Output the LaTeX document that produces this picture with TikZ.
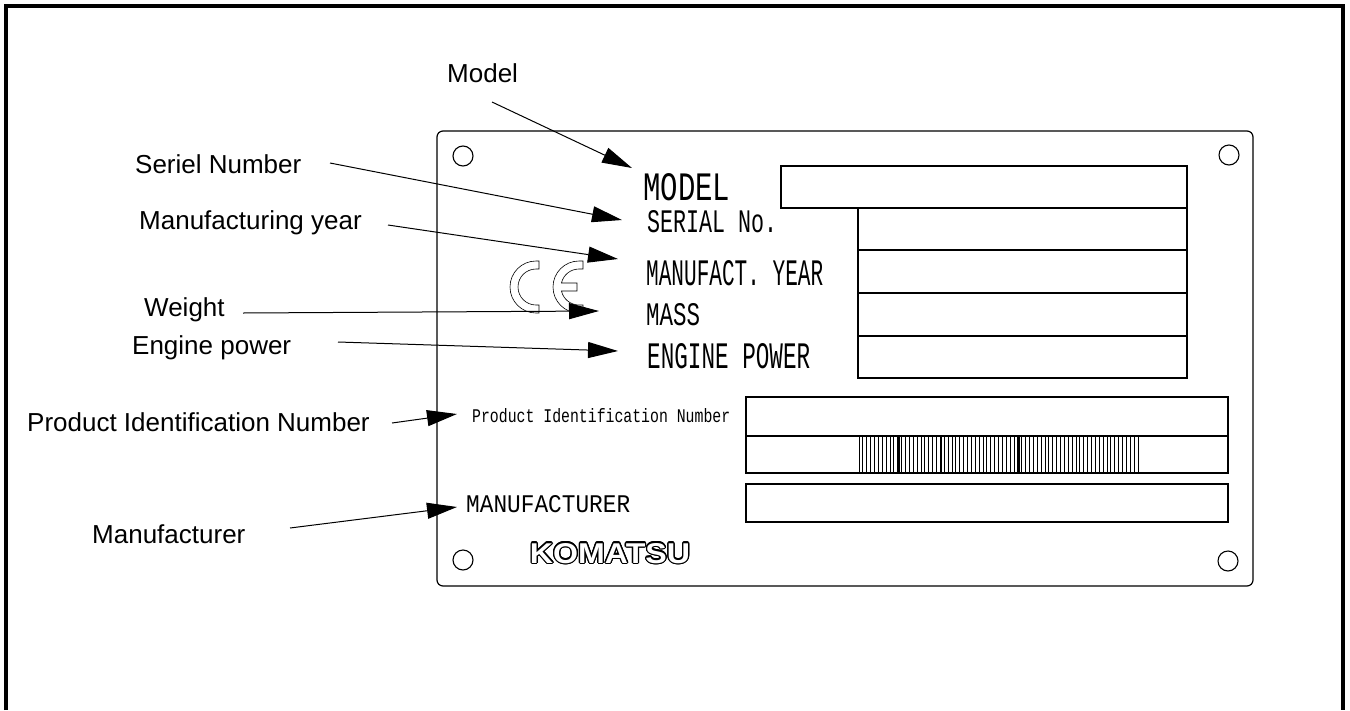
\documentclass[tikz,border=0pt]{standalone}
\usepackage{graphicx}
\usepackage{fontspec}
\setmainfont{Liberation Sans}
\newfontfamily\platefont{Liberation Mono}
\usetikzlibrary{arrows.meta}
\newcommand\platetxt[3]{\resizebox{#1pt}{#2pt}{\platefont #3}}
\begin{document}
\begin{tikzpicture}[x=1pt,y=-1pt,
  lab/.style={font=\fontsize{26}{30}\selectfont, anchor=base west, inner sep=0pt},
  ptxt/.style={anchor=base west, inner sep=0pt},
  arr/.style={-{Triangle[length=30pt,width=16pt]}, line width=1pt},
  box/.style={line width=1.5pt},
  hole/.style={line width=1.1pt},
  bar/.style={line width=0.8pt},
  cemark/.style={line width=0.6pt},
  logo/.style={anchor=base, inner sep=0pt}]
\useasboundingbox (0,0) rectangle (1350,710);
\fill[white] (0,0) rectangle (1350,710);
% outer frame (open at bottom)
\draw[line width=3.2pt] (6,710) -- (6,6) -- (1343,6) -- (1343,710);
% plate
\draw[line width=1.2pt, rounded corners=6pt] (437,131) rectangle (1253,586);
\foreach \n/\p in {h1/{(463,156)}, h2/{(1229,155)}, h3/{(463,560)}, h4/{(1228,561)}}
  \draw[hole] \p circle[radius=10];
% boxes
\draw[box] (781,166) rectangle (1187,208);
\draw[box] (858,208) rectangle (1187,378);
\foreach \yy in {250,293,336} \draw[box] (858,\yy) -- (1187,\yy);
\draw[box] (746,397) rectangle (1228,473);
\draw[box] (746,436) -- (1228,436);
\draw[box] (746,484) rectangle (1228,522);
% barcode
\foreach \i in {0,...,72} \draw[bar] ({859+\i*3.875},436) -- ++(0,37);
\foreach \xx in {899,941,1019} \draw[line width=1.4pt] (\xx,436) -- ++(0,37);
% plate texts
\node[ptxt] (tModel) at (643,200) {\platetxt{87}{27}{MODEL}};
\node[ptxt] (tSerial) at (647,232) {\platetxt{130}{22}{SERIAL No.}};
\node[ptxt] (tYear) at (646,285) {\platetxt{177}{25}{MANUFACT. YEAR}};
\node[ptxt] (tMass) at (646,325) {\platetxt{54}{22}{MASS}};
\node[ptxt] (tEngine) at (647,368) {\platetxt{163}{25}{ENGINE POWER}};
\node[ptxt] (tPin) at (472,422) {\platetxt{258}{14}{Product Identification Number}};
\node[ptxt] (tManu) at (466,512) {\platetxt{164}{17}{MANUFACTURER}};
% CE mark
\draw[cemark] (539,261) -- (536,261) arc[start angle=270,end angle=90,radius=26]
  -- (539,313) -- (539,305) -- (536,305) arc[start angle=90,end angle=270,radius=18]
  -- (539,269) -- cycle;
\draw[cemark] (583,261) -- (579,261) arc[start angle=270,end angle=90,radius=26]
  -- (583,313) -- (583,305) -- (579,305) arc[start angle=90,end angle=167.16,radius=18]
  -- (577,291) -- (577,283) -- (561.45,283) arc[start angle=192.84,end angle=270,radius=18]
  -- (583,269) -- cycle;
% KOMATSU logo (outlined letters)
\foreach \a in {0,22.5,...,337.5}
  \node[logo, text=black, shift={(\a:1.3)}] (logo\a) at (610,563) {\resizebox{160pt}{20pt}{\bfseries KOMATSU}};
\node[logo, text=white] (logo) at (610,563) {\resizebox{160pt}{20pt}{\bfseries KOMATSU}};
% left labels
\node[lab] (lModel) at (447,82) {Model};
\node[lab] (lSerial) at (135,173) {Seriel Number};
\node[lab] (lYear) at (139,229) {Manufacturing year};
\node[lab] (lWeight) at (144,316) {Weight};
\node[lab] (lEngine) at (132,354) {Engine power};
\node[lab] (lPin) at (27,431) {Product Identification Number};
\node[lab] (lManu) at (92,543) {Manufacturer};
% arrow coordinates
\coordinate (sModel) at (492,102);   \coordinate (eModel) at (632,168);
\coordinate (sSerial) at (330,163);  \coordinate (eSerial) at (622,220);
\coordinate (sYear) at (388,225);    \coordinate (eYear) at (618,259);
\coordinate (sWeight) at (243,313);  \coordinate (eWeight) at (599,311);
\coordinate (sEngine) at (338,342);  \coordinate (eEngine) at (618,351);
\coordinate (sPin) at (392,423);     \coordinate (ePin) at (457,414);
\coordinate (sManu) at (290,528);    \coordinate (eManu) at (457,507);
\foreach \k in {Model,Serial,Year,Weight,Engine,Pin,Manu}
  \draw[arr] (s\k) -- (e\k);
\end{tikzpicture}
\end{document}
